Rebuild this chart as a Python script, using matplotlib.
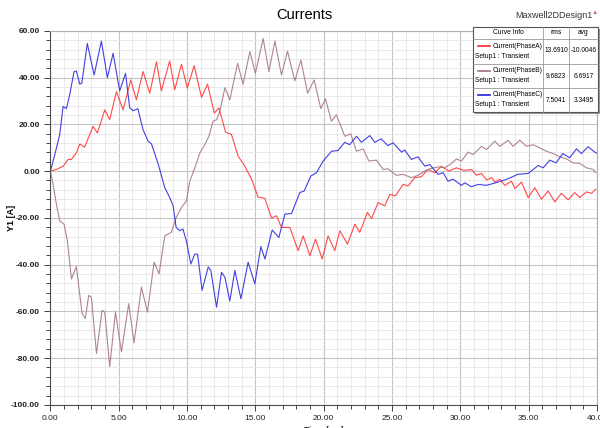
import matplotlib
matplotlib.use("Agg")
import matplotlib.pyplot as plt
from matplotlib.ticker import MultipleLocator, FormatStrFormatter
from matplotlib.patches import Rectangle
from matplotlib.lines import Line2D

plt.rcParams['font.family'] = ['Liberation Sans', 'DejaVu Sans']

# ---- data (time in ms, current in A) ----
t_a = [0, 0.44, 0.93, 1.3, 1.54, 1.9, 2.15, 2.5, 3.12, 3.44, 3.98, 4.34, 4.83, 5.32, 5.88, 6.29,
       6.78, 7.27, 7.76, 8.12, 8.73, 9.1, 9.59, 10.02, 10.52, 11.06, 11.5, 11.99, 12.33, 12.82,
       13.25, 13.74, 14.23, 14.72, 15.2, 15.69, 16.18, 16.55, 16.91, 17.52, 18.13, 18.5, 18.99,
       19.4, 19.89, 20.32, 20.81, 21.18, 21.74, 22.28, 22.64, 23.2, 23.5, 23.98, 24.47, 24.84,
       25.25, 25.81, 26.18, 26.67, 27.15, 27.64, 28.13, 28.62, 29.15, 29.71, 30.2, 30.45, 30.81,
       31.18, 31.55, 31.91, 32.3, 32.52, 32.9, 33.25, 33.74, 34.0, 34.47, 34.96, 35.45, 35.94,
       36.42, 36.91, 37.4, 37.89, 38.37, 38.74, 39.23, 39.6, 39.91]
i_a = [0, 0.7, 2.1, 5, 5, 7.8, 11.6, 10.2, 19.1, 16.3, 26.2, 22, 34, 26.2, 39, 30.5,
       42.6, 33.3, 46.8, 34.3, 47.1, 34.8, 45.7, 35.5, 45.1, 31.5, 37.2, 24.8, 27, 16.7,
       15.6, 6.4, 2.1, -3.5, -11.1, -11.6, -20.1, -19.1, -24.1, -24.1, -34, -27.7, -36.2,
       -29.1, -37.6, -27.7, -34, -25.5, -31.2, -22.7, -26.2, -17.7, -20.3, -13.5, -14.9, -9.9,
       -10.6, -5.7, -6.4, -2.8, -2.4, 0.7, -0.7, 2.1, 0, 1.4, 0.4, 0.4, 0.7,
       -1.8, -1, -3.8, -2.8, -4.7, -3.5, -6.1, -4.3, -7.5, -4.7, -11.3, -7.1, -12,
       -8.5, -13.2, -9.5, -12.3, -9.2, -11.3, -8.9, -9.5, -7.8]

t_b = [0, 0.2, 0.44, 0.68, 1.0, 1.24, 1.54, 1.9, 2.32, 2.56, 2.8, 3.0, 3.37, 3.78, 3.98, 4.34,
       4.76, 5.2, 5.73, 6.12, 6.66, 7.1, 7.59, 7.95, 8.37, 8.85, 9.22, 9.59, 9.95, 10.2, 10.57,
       10.94, 11.3, 11.6, 11.9, 12.16, 12.4, 12.77, 13.13, 13.7, 14.1, 14.6, 15.0, 15.57, 15.99,
       16.43, 16.91, 17.35, 17.89, 18.33, 18.82, 19.3, 19.79, 20.13, 20.57, 20.93, 21.54, 21.98,
       22.4, 22.89, 23.3, 23.86, 24.35, 24.71, 25.32, 25.81, 26.42, 26.9, 27.4, 27.76, 28.37,
       28.86, 29.35, 29.71, 30.08, 30.57, 30.94, 31.55, 31.91, 32.52, 32.89, 33.5, 33.86, 34.35,
       34.84, 35.33, 35.81, 36.3, 36.79, 37.28, 37.77, 38.25, 38.74, 39.23, 39.72, 39.91]
i_b = [0, -5.7, -14.2, -21.3, -22.7, -29.8, -46.1, -40.9, -61, -63.1, -53.2, -53.9, -78, -59.6,
       -60.3, -83.7, -60.3, -77.3, -56.7, -73.5, -49.6, -60.3, -39, -44, -27.7, -26.2, -19.6,
       -15.6, -12.8, -4.3, 1.4, 7.8, 11.3, 14.9, 21.3, 22, 25.5, 35.7, 30.5, 46.1, 37.2, 51.1,
       41.8, 56.7, 42.6, 55.6, 41.1, 51.3, 38.6, 47.5, 33.3, 39, 26.7, 30.9, 21.3, 24.1, 14.9,
       15.9, 8.5, 9.5, 4.3, 4.7, 0.7, 1, -1.8, -1.4, -2.8, -1.8, 0, 1, 1.8, 1.4, 3.3, 5.2, 4.3,
       8.1, 7.1, 10.6, 9.2, 12.8, 10.6, 13.2, 10.6, 13.2, 10.6, 11.3, 9.9, 8.5, 7.5, 6.1, 5.2,
       3.5, 3.3, 1.4, 0.7, -0.7]

t_c = [0, 0.32, 0.68, 0.93, 1.17, 1.41, 1.73, 1.9, 2.15, 2.3, 2.7, 3.2, 3.73, 4.17, 4.59, 5.07,
       5.5, 5.8, 6.05, 6.4, 6.78, 7.15, 7.4, 7.9, 8.37, 8.73, 8.98, 9.2, 9.46, 9.7, 9.95, 10.28,
       10.57, 10.77, 11.1, 11.55, 11.74, 12.16, 12.52, 12.77, 13.13, 13.5, 13.94, 14.47, 14.96,
       15.4, 15.7, 16.23, 16.72, 17.16, 17.64, 18.25, 18.57, 19.06, 19.47, 19.96, 20.57, 21.05,
       21.54, 21.9, 22.4, 22.76, 23.37, 23.74, 24.2, 24.7, 25.08, 25.7, 25.93, 26.42, 26.9, 27.4,
       27.76, 28.37, 28.74, 29.1, 29.47, 30.08, 30.33, 30.8, 31.3, 31.9, 32.6, 33.4, 34.2, 34.96,
       35.7, 36.06, 36.55, 37.0, 37.5, 38.0, 38.5, 38.86, 39.35, 39.84, 40.0]
i_c = [0, 7, 15.6, 27.7, 26.7, 32.6, 42.5, 42.8, 37.2, 37.6, 54.6, 41.1, 55.6, 40, 50.4, 34.3,
       41.8, 27.2, 25.8, 26.7, 17.7, 12.8, 11.6, 2.8, -7.1, -11.3, -14.9, -24.1, -25.5, -24.8,
       -29.8, -39.7, -35.5, -35.5, -51, -41, -42.5, -58.2, -43.3, -45.4, -55.6, -42.5, -54.6, -39,
       -48.2, -32.3, -37.6, -25.2, -28.4, -18.4, -18.2, -9.2, -8.5, -2.1, -0.7, 4.3, 8.5, 8.8,
       12.3, 11.3, 14.9, 12.3, 15.2, 12.3, 13.8, 10.9, 12.1, 8.1, 9, 5, 6.1, 2.1,
       2.8, -1.4, -0.7, -4.3, -3.5, -6.1, -5, -6.7, -5.7, -6.1, -5, -3.5, -1.4, -1,
       2.4, 1.4, 4.7, 3.5, 7.5, 5.7, 9.5, 7.5, 10.4, 8.1, 7.6]

curve_names = ['Current(PhaseA)', 'Current(PhaseB)', 'Current(PhaseC)']
rms_vals = ['13.6910', '9.6823', '7.5041']
avg_vals = ['-10.0046', '6.6917', '3.3495']
colors = ['#ff2a2a', '#a0707e', '#2020e0']

fig = plt.figure(figsize=(6.0, 4.28), dpi=100)
ax = fig.add_axes([0.084, 0.054, 0.911, 0.874])

for t, i, c in zip([t_a, t_b, t_c], [i_a, i_b, i_c], colors):
    ax.plot(t, i, color=c, lw=0.8, alpha=0.85, solid_joinstyle='round')

ax.set_xlim(0, 40)
ax.set_ylim(-100, 60)
ax.xaxis.set_major_locator(MultipleLocator(5))
ax.xaxis.set_minor_locator(MultipleLocator(1))
ax.yaxis.set_major_locator(MultipleLocator(20))
ax.yaxis.set_minor_locator(MultipleLocator(4))
ax.xaxis.set_major_formatter(FormatStrFormatter('%.2f'))
ax.yaxis.set_major_formatter(FormatStrFormatter('%.2f'))
ax.grid(which='major', color='#c4c4c4', lw=0.8)
ax.grid(which='minor', color='#e6e6e6', lw=0.6)
ax.set_axisbelow(True)
ax.tick_params(which='both', direction='out', colors='#404040', labelsize=6, width=0.7)
ax.tick_params(which='major', length=4)
ax.tick_params(which='minor', length=3)
for lab in ax.get_xticklabels() + ax.get_yticklabels():
    lab.set_color('#222222')
for lab in ax.get_yticklabels():
    lab.set_fontweight('bold')
for s in ['top', 'right']:
    ax.spines[s].set_color('#b0b0b0')
for s in ['left', 'bottom']:
    ax.spines[s].set_color('#505050')
ax.set_ylabel('Y1 [A]', fontsize=6.5, fontweight='bold')
ax.yaxis.set_label_coords(-0.063, 0.5)
ax.set_xlabel('Time [ms]', fontsize=6.5, labelpad=3)

fig.text(0.508, 0.965, 'Currents', ha='center', va='center', fontsize=10.5)
fig.text(0.923, 0.963, 'Maxwell2DDesign1', ha='center', va='center', fontsize=6.5, color='#333333')
fig.text(0.992, 0.970, '\u25b2', ha='center', va='center', fontsize=4.5, color='#cc6666')

# legend table in pixel coordinates
W, H = 600.0, 428.0
def fx(px):
    return px / W
def fy(py):
    return 1 - py / H

x0, x1, x2, x3 = 473, 543, 569, 598
rows = [27, 39, 64, 88, 112]
fig.patches.append(Rectangle((fx(x0 + 2), fy(rows[-1] + 2)), fx(x3 - x0), fy(rows[0]) - fy(rows[-1]),
                             transform=fig.transFigure, facecolor='#999999', edgecolor='none', zorder=4))
fig.patches.append(Rectangle((fx(x0), fy(rows[-1])), fx(x3 - x0), fy(rows[0]) - fy(rows[-1]),
                             transform=fig.transFigure, facecolor='white', edgecolor='#555555', lw=0.8, zorder=5))
for py in rows[1:-1]:
    fig.lines.append(Line2D([fx(x0), fx(x3)], [fy(py), fy(py)], transform=fig.transFigure,
                            color='#999999', lw=0.6, zorder=6))
for px in [x1, x2]:
    fig.lines.append(Line2D([fx(px), fx(px)], [fy(rows[0]), fy(rows[-1])], transform=fig.transFigure,
                            color='#999999', lw=0.6, zorder=6))

fs = 4.8
fig.text(fx((x0 + x1) / 2), fy(33), 'Curve Info', ha='center', va='center', fontsize=fs, zorder=7)
fig.text(fx((x1 + x2) / 2), fy(33), 'rms', ha='center', va='center', fontsize=fs, zorder=7)
fig.text(fx((x2 + x3) / 2), fy(33), 'avg', ha='center', va='center', fontsize=fs, zorder=7)
for k in range(3):
    top = rows[k + 1]
    fig.lines.append(Line2D([fx(x0 + 5), fx(x0 + 17)], [fy(top + 7), fy(top + 7)], transform=fig.transFigure,
                            color=colors[k], lw=1.2, zorder=7))
    fig.text(fx(x0 + 20), fy(top + 7), curve_names[k], ha='left', va='center', fontsize=fs, zorder=7)
    fig.text(fx(x0 + 2), fy(top + 17), 'Setup1 : Transient', ha='left', va='center', fontsize=fs, zorder=7)
    fig.text(fx((x1 + x2) / 2), fy(top + 12), rms_vals[k], ha='center', va='center', fontsize=fs, zorder=7)
    fig.text(fx((x2 + x3) / 2), fy(top + 12), avg_vals[k], ha='center', va='center', fontsize=fs, zorder=7)

fig.savefig('out.png', dpi=100)
